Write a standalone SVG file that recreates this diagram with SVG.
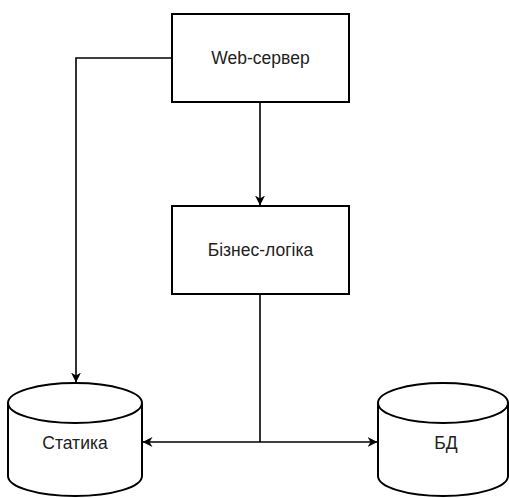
<svg xmlns="http://www.w3.org/2000/svg" width="509" height="498" viewBox="0 0 509 498">
  <style>
    .box { fill: #ffffff; stroke: #000000; stroke-width: 2; }
    .edge { fill: none; stroke: #000000; stroke-width: 1.6; }
    .label { font-family: "Liberation Sans", Arial, sans-serif; font-size: 17.5px; fill: #222222; text-anchor: middle; dominant-baseline: central; }
  </style>
  <defs>
    <marker id="arrow" viewBox="0 0 10 10" refX="9.5" refY="5" markerWidth="10" markerHeight="10" markerUnits="userSpaceOnUse" orient="auto">
      <path d="M0,0 L10,5 L0,10 L3,5 Z" fill="#000000"/>
    </marker>
  </defs>
  <rect width="509" height="498" fill="#ffffff"/>

  <g id="connectors">
    <path class="edge" d="M260,102 L260,205" marker-end="url(#arrow)"/>
    <path class="edge" d="M172,58 L76,58 L76,382" marker-end="url(#arrow)"/>
    <path class="edge" d="M260,294 L260,442"/>
    <path class="edge" d="M260,442 L143,442" marker-end="url(#arrow)"/>
    <path class="edge" d="M260,442 L377,442" marker-end="url(#arrow)"/>
  </g>

  <g id="web-server">
    <rect class="box" x="172" y="14" width="177" height="88"/>
    <text class="label" x="260.5" y="58">Web-сервер</text>
  </g>

  <g id="business-logic">
    <rect class="box" x="172" y="206" width="177" height="88"/>
    <text class="label" x="260.5" y="250">Бізнес-логіка</text>
  </g>

  <g id="static">
    <path class="box" d="M8,403 A67,20 0 0 1 142,403 L142,476 A67,20 0 0 1 8,476 Z"/>
    <path class="box" fill="none" d="M8,403 A67,20 0 0 0 142,403"/>
    <text class="label" x="75" y="443">Статика</text>
  </g>

  <g id="database">
    <path class="box" d="M378,403 A65,20 0 0 1 508,403 L508,476 A65,20 0 0 1 378,476 Z"/>
    <path class="box" fill="none" d="M378,403 A65,20 0 0 0 508,403"/>
    <text class="label" x="446" y="443">БД</text>
  </g>
</svg>
